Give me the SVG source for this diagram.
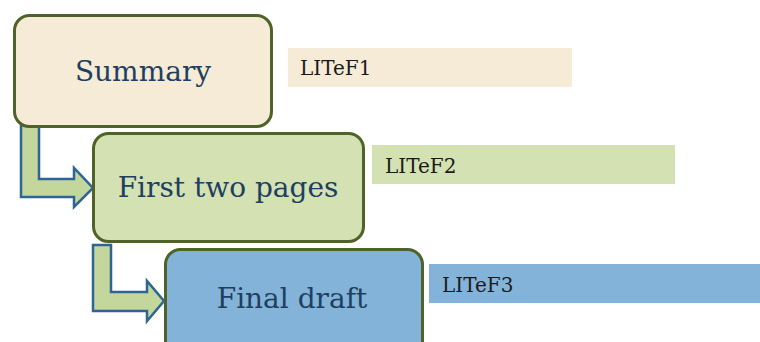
<svg xmlns="http://www.w3.org/2000/svg" width="760" height="342" viewBox="0 0 760 342">
<style>
.node{stroke:#4f6228;stroke-width:3}
.ntext{font-family:"DejaVu Serif","Liberation Serif",serif;font-size:28px;fill:#1f3f60;text-anchor:middle}
.ltext{font-family:"DejaVu Serif","Liberation Serif",serif;font-size:20px;fill:#1a1a1a}
.arrow{fill:#c3d69b;stroke:#2f6596;stroke-width:2.5;stroke-linejoin:miter}
</style>
<rect width="760" height="342" fill="#ffffff"/>
<g id="connectors">
<path class="arrow" d="M21,125 L39,125 L39,179 L74,179 L74,168 L93,188 L74,207 L74,197 L21,197 Z"/>
<path class="arrow" d="M93,245 L111,245 L111,292 L147,292 L147,281 L164,301 L147,321 L147,311 L93,311 Z"/>
</g>
<g id="label1">
<rect x="288" y="48" width="284" height="39" fill="#f5ebd7"/>
<text class="ltext" x="300" y="75">LITeF1</text>
</g>
<g id="label2">
<rect x="372" y="145" width="303" height="39" fill="#d3e1b3"/>
<text class="ltext" x="385" y="173">LITeF2</text>
</g>
<g id="label3">
<rect x="429" y="264" width="331" height="39" fill="#84b3d9"/>
<text class="ltext" x="442" y="292">LITeF3</text>
</g>
<g id="node1">
<rect class="node" x="14.5" y="15.5" width="257" height="111" rx="15" fill="#f5ebd7"/>
<text class="ntext" x="143" y="81">Summary</text>
</g>
<g id="node2">
<rect class="node" x="93.5" y="133.5" width="270" height="108" rx="15" fill="#d3e1b3"/>
<text class="ntext" x="228" y="197">First two pages</text>
</g>
<g id="node3">
<rect class="node" x="165.5" y="249.5" width="257" height="110" rx="15" fill="#84b3d9"/>
<text class="ntext" x="292" y="308">Final draft</text>
</g>
</svg>
